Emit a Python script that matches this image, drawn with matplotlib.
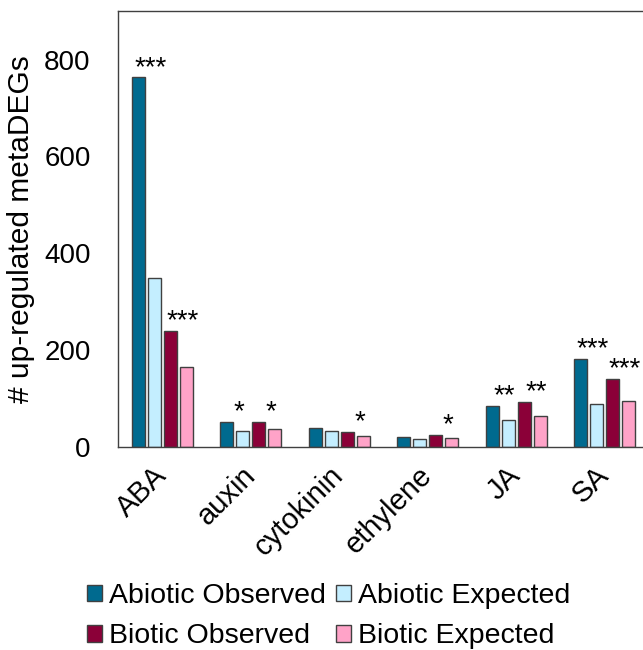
import matplotlib

matplotlib.use("Agg")
import matplotlib.pyplot as plt
from matplotlib.patches import Patch
import numpy as np

plt.rcParams["font.family"] = ["Liberation Sans", "DejaVu Sans"]

hormones = ["ABA", "auxin", "cytokinin", "ethylene", "JA", "SA"]
abiotic_obs = [763, 52, 39, 21, 85, 183]
abiotic_exp = [350, 34, 33, 16, 56, 90]
biotic_obs = [239, 53, 32, 25, 93, 140]
biotic_exp = [165, 38, 23, 19, 64, 95]
abiotic_stars = ["***", "*", "", "", "**", "***"]
biotic_stars = ["***", "*", "*", "*", "**", "***"]

series = [
    ("Abiotic Observed", abiotic_obs, "#006a8f"),
    ("Abiotic Expected", abiotic_exp, "#c4eeff"),
    ("Biotic Observed", biotic_obs, "#8b0038"),
    ("Biotic Expected", biotic_exp, "#ffa3c8"),
]

fig = plt.figure(figsize=(6.43, 6.5), dpi=100)
ax = fig.add_axes([0.184, 0.312, 0.825, 0.671])

x = np.arange(len(hormones))
slot = 0.181
width = 0.147
offsets = (np.arange(4) - 1.5) * slot
for (name, vals, color), off in zip(series, offsets):
    ax.bar(x + off, vals, width=width, color=color, edgecolor="#404040",
           linewidth=1.0, label=name)

for i in range(len(hormones)):
    if abiotic_stars[i]:
        ax.text(x[i] + offsets[0] + 0.14, abiotic_obs[i] + 20, abiotic_stars[i],
                ha="center", va="center", fontsize=20)
    if biotic_stars[i]:
        ax.text(x[i] + offsets[2] + 0.14, biotic_obs[i] + 20, biotic_stars[i],
                ha="center", va="center", fontsize=20)

ax.set_xlim(-0.5, 5.5)
ax.set_ylim(0, 900)
ax.set_yticks([0, 200, 400, 600, 800])
ax.set_xticks(x)
ax.set_xticklabels(hormones, rotation=45, ha="right", va="center",
                   rotation_mode="anchor", fontsize=21)
ax.tick_params(axis="both", length=0)
ax.tick_params(axis="y", pad=20, labelsize=20)
ax.tick_params(axis="x", pad=17)
ax.set_ylabel("# up-regulated metaDEGs", fontsize=21.5)
ax.yaxis.set_label_coords(-0.157, 0.5)
for sp in ax.spines.values():
    sp.set_color("#404040")
    sp.set_linewidth(1.0)

# legend fills column-first, so order handles to read row-wise
order = [0, 2, 1, 3]
handles = [Patch(facecolor=series[k][2], edgecolor="#404040", label=series[k][0])
           for k in order]
fig.legend(handles=handles, loc="center", bbox_to_anchor=(0.511, 0.052), ncol=2,
           frameon=False, fontsize=20.5, handlelength=0.53, handleheight=0.53,
           handletextpad=0.25, columnspacing=0.35, labelspacing=0.5,
           borderpad=0.1)

fig.savefig("out.png", dpi=100)
